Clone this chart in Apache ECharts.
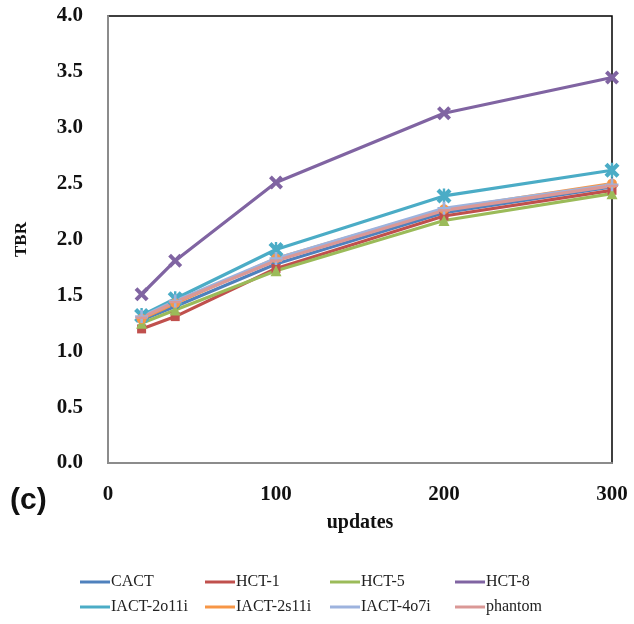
<!DOCTYPE html>
<html>
<head>
<meta charset="utf-8">
<script src="https://cdn.jsdelivr.net/npm/echarts@6/dist/echarts.min.js"></script>
<style>
  html, body { margin: 0; padding: 0; background: #fff; }
  #chart { width: 634px; height: 624px; }
</style>
</head>
<body>
<div id="chart"></div>
<script>
// Number of updates on the x axis
const updates = [20, 40, 100, 200, 300];

// TBR per method
const seriesNames = ['CACT', 'HCT-1', 'HCT-5', 'HCT-8', 'IACT-2o11i', 'IACT-2s11i', 'IACT-4o7i', 'phantom'];
const cact      = [1.28, 1.40, 1.78, 2.24, 2.47];
const hct1      = [1.20, 1.31, 1.74, 2.21, 2.44];
const hct5      = [1.25, 1.37, 1.72, 2.17, 2.41];
const hct8      = [1.51, 1.81, 2.51, 3.13, 3.45];
const iact2o11i = [1.32, 1.47, 1.91, 2.39, 2.62];
const iact2s11i = [1.29, 1.43, 1.83, 2.27, 2.50];
const iact4o7i  = [1.31, 1.45, 1.83, 2.28, 2.49];
const phantom   = [1.30, 1.44, 1.81, 2.26, 2.48];
const seriesValues = [cact, hct1, hct5, hct8, iact2o11i, iact2s11i, iact4o7i, phantom];

const colors = ['#4F81BD', '#C0504D', '#9BBB59', '#8064A2', '#4BACC6', '#F79646', '#9DB3DE', '#DA9896'];

// Marker shapes (cross, asterisk, plus and dash drawn as filled outlines)
const crossPath = 'path://M2,0 L5,3 L8,0 L10,2 L7,5 L10,8 L8,10 L5,7 L2,10 L0,8 L3,5 L0,2 Z';
const starPath = 'path://M2,0 L5,3 L8,0 L10,2 L7,5 L10,8 L8,10 L5,7 L2,10 L0,8 L3,5 L0,2 Z M4.2,0 H5.8 V10 H4.2 Z';
const plusPath = 'path://M4,0 H6 V4 H10 V6 H6 V10 H4 V6 H0 V4 H4 Z';
const dashPath = 'path://M0,4 H10 V6 H0 Z';
const symbols = ['diamond', 'rect', 'triangle', crossPath, starPath, 'circle', plusPath, dashPath];
const symbolSizes = [10, 9, 11, 14, 15, 10, 13, 12];

const serif = '"Liberation Serif", "DejaVu Serif", serif';

const series = seriesNames.map((name, i) => ({
  name: name,
  type: 'line',
  data: updates.map((u, j) => [u, seriesValues[i][j]]),
  symbol: symbols[i],
  symbolSize: symbolSizes[i],
  symbolKeepAspect: true,
  showAllSymbol: true,
  lineStyle: { color: colors[i], width: 3.2 },
  itemStyle: { color: colors[i], borderWidth: 0 },
  emphasis: { disabled: true },
  animation: false
}));

// Legend laid out in a 4 x 2 table
const legendCols = [80, 205, 330, 455];
const legendRows = [574, 599];
const legends = seriesNames.map((name, i) => ({
  data: [name],
  left: legendCols[i % 4],
  top: legendRows[Math.floor(i / 4)],
  icon: 'rect',
  itemWidth: 30,
  itemHeight: 3,
  itemGap: 0,
  padding: 0,
  selectedMode: false,
  textStyle: { fontFamily: serif, fontSize: 16, color: '#222', padding: [0, 0, 0, -4] },
  itemStyle: { color: colors[i] }
}));

const chart = echarts.init(document.getElementById('chart'), null, { renderer: 'canvas' });
chart.setOption({
  backgroundColor: '#fff',
  animation: false,
  color: colors,
  grid: {
    left: 108, right: 22, top: 16, bottom: 161,
    show: true, borderColor: '#000', borderWidth: 1.5, backgroundColor: 'transparent'
  },
  legend: legends,
  xAxis: {
    type: 'value', min: 0, max: 300, interval: 100,
    name: 'updates', nameLocation: 'middle', nameGap: 50,
    nameTextStyle: { fontFamily: serif, fontWeight: 'bold', fontSize: 20, color: '#111' },
    axisLine: { show: true, lineStyle: { color: '#8c8c8c', width: 2 } },
    axisTick: { show: false },
    splitLine: { show: false },
    axisLabel: { fontFamily: serif, fontWeight: 'bold', fontSize: 21, color: '#111', margin: 21 }
  },
  yAxis: {
    type: 'value', min: 0, max: 4, interval: 0.5,
    name: 'TBR', nameLocation: 'middle', nameGap: 78, nameRotate: 90,
    nameTextStyle: { fontFamily: serif, fontWeight: 'bold', fontSize: 17, color: '#111' },
    axisLine: { show: true, lineStyle: { color: '#8c8c8c', width: 2 } },
    axisTick: { show: false },
    splitLine: { show: false },
    axisLabel: {
      fontFamily: serif, fontWeight: 'bold', fontSize: 21, color: '#111', margin: 25,
      formatter: v => v.toFixed(1)
    }
  },
  graphic: [{
    type: 'text', left: 10, top: 486,
    style: { text: '(c)', fontFamily: '"Liberation Sans", Arial, sans-serif', fontWeight: 'bold', fontSize: 30, fill: '#111' }
  }],
  series: series
});
</script>
</body>
</html>
